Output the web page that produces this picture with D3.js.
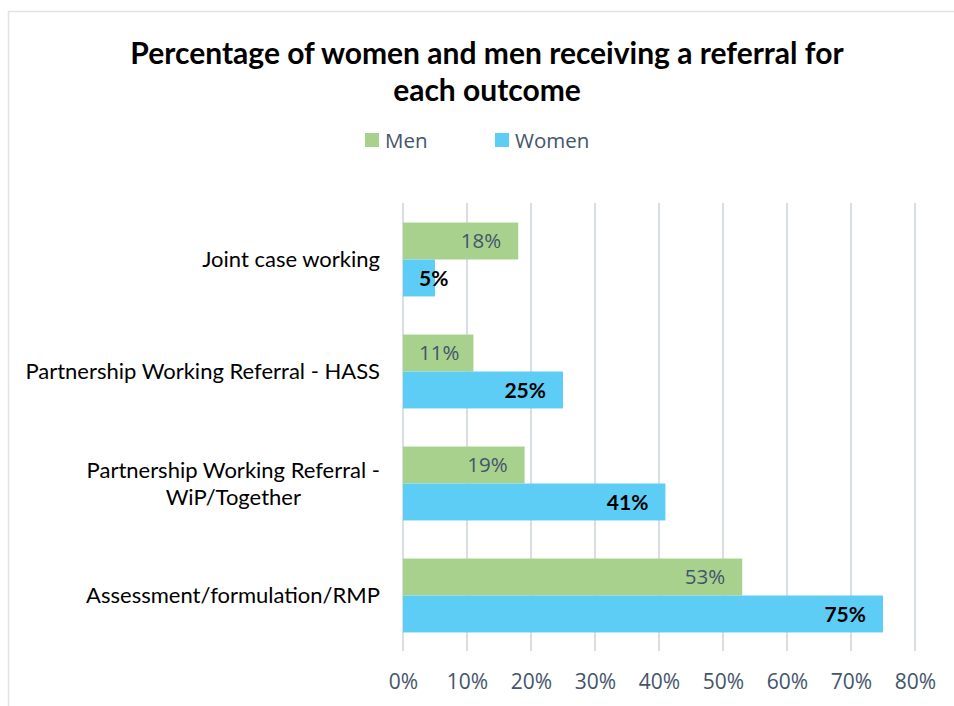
<!DOCTYPE html>
<html>
<head>
<meta charset="utf-8">
<script src="https://cdn.jsdelivr.net/npm/d3@7"></script>
<style>
  body { margin: 0; background: #fff; }
  svg { display: block; }
</style>
</head>
<body>
<div id="main"></div>
<script>
// DATA
var categories = ['Joint case working', 'Partnership Working Referral - HASS',
  'Partnership Working Referral - WiP/Together', 'Assessment/formulation/RMP']
// label lines as drawn on the axis
var category_lines = [['Joint case working'], ['Partnership Working Referral - HASS'],
  ['Partnership Working Referral -', 'WiP/Together'], ['Assessment/formulation/RMP']]
var series = ['Men', 'Women']
var men_values = [18, 11, 19, 53]
var women_values = [5, 25, 41, 75]
var x_ticks = [0, 10, 20, 30, 40, 50, 60, 70, 80]
var title_lines = ['Percentage of women and men receiving a referral for', 'each outcome']

var colors = {Men: '#A9D18E', Women: '#5ECDF5'}
var gray_text = '#44546A'

var width = 954, height = 706

var svg = d3.select('#main').append('svg')
  .attr('width', width)
  .attr('height', height)

// Chart border (only top and left are visible in the frame)
svg.append('rect')
  .attr('x', 8.5).attr('y', 11.5)
  .attr('width', 960).attr('height', 720)
  .attr('fill', 'none')
  .attr('stroke', '#E0E4E9')
  .attr('stroke-width', 1.5)

// Title
svg.append('g').selectAll('text')
  .data(title_lines)
  .join('text')
    .attr('x', 487)
    .attr('y', (d, i) => 64 + i * 37)
    .attr('text-anchor', 'middle')
    .style('font-family', 'Lato, sans-serif')
    .style('font-weight', 'bold')
    .style('font-size', '30px')
    .attr('fill', '#000')
    .text(d => d)

// Legend
var legend_x = [365, 495]
var legend = svg.append('g').selectAll('g')
  .data(series)
  .join('g')
    .attr('transform', (d, i) => `translate(${legend_x[i]},133)`)
legend.append('rect')
  .attr('width', 14).attr('height', 14)
  .attr('fill', d => colors[d])
legend.append('text')
  .attr('x', 20).attr('y', 14.5)
  .style('font-family', '"Open Sans", sans-serif')
  .style('font-size', '20.5px')
  .attr('fill', gray_text)
  .text(d => d)

// Scales
var x = d3.scaleLinear().domain([0, 80]).range([403, 915])
var y = d3.scaleBand().domain(categories).range([203.5, 651.5])
  .paddingInner(0.34).paddingOuter(0.17)
var y_inner = d3.scaleBand().domain(series).range([0, y.bandwidth()])

// Gridlines
svg.append('g').selectAll('line')
  .data(x_ticks)
  .join('line')
    .attr('x1', d => x(d)).attr('x2', d => x(d))
    .attr('y1', 203).attr('y2', 651)
    .attr('stroke', '#D9DEE6')
    .attr('stroke-width', 2)

// X axis (labels only)
var x_axis = d3.axisBottom(x).tickValues(x_ticks).tickFormat(d => d + '%').tickSize(0).tickPadding(0)
var gx = svg.append('g')
  .attr('transform', 'translate(0,670)')
  .call(x_axis)
gx.select('.domain').remove()
gx.selectAll('text')
  .attr('dy', '0.9em')
  .style('font-family', '"Open Sans", sans-serif')
  .style('font-size', '21px')
  .attr('fill', gray_text)

// Category labels: block right aligned at x=380, lines centered inside block
var cat_g = svg.append('g').selectAll('text')
  .data(categories)
  .join('text')
    .style('font-family', 'Lato, sans-serif')
    .style('font-size', '22px')
    .attr('fill', '#000')
    .attr('text-anchor', 'middle')
cat_g.each(function(d, i) {
  var lines = category_lines[i]
  var t = d3.select(this)
  var cy = y(d) + y.bandwidth() / 2
  lines.forEach(function(line, j) {
    t.append('tspan')
      .attr('y', cy + 7.5 + (j - (lines.length - 1) / 2) * 27)
      .text(line)
  })
  // measure longest line to place the block
  var w = 0
  t.selectAll('tspan').each(function() { w = Math.max(w, this.getComputedTextLength()) })
  t.selectAll('tspan').attr('x', 380 - w / 2)
})

// Bars
var rows = categories.map((c, i) => ({category: c, Men: men_values[i], Women: women_values[i]}))
var groups = svg.append('g').selectAll('g')
  .data(rows)
  .join('g')
    .attr('transform', d => `translate(0,${y(d.category)})`)

var bars = groups.selectAll('g')
  .data(d => series.map(s => ({series: s, value: d[s]})))
  .join('g')

bars.append('rect')
  .attr('x', x(0))
  .attr('y', d => y_inner(d.series))
  .attr('width', d => x(d.value) - x(0))
  .attr('height', y_inner.bandwidth())
  .attr('fill', d => colors[d.series])

// Data labels: inside end, clamped to the bar start when the bar is short
bars.append('text')
  .attr('y', d => y_inner(d.series) + y_inner.bandwidth() / 2)
  .attr('dy', '0.36em')
  .attr('text-anchor', 'end')
  .style('font-family', d => d.series == 'Men' ? '"Open Sans", sans-serif' : 'Lato, sans-serif')
  .style('font-weight', d => d.series == 'Men' ? 'normal' : 'bold')
  .style('font-size', d => d.series == 'Men' ? '20.5px' : '21px')
  .attr('fill', d => d.series == 'Men' ? gray_text : '#000')
  .text(d => d.value + '%')
  .each(function(d) {
    var w = this.getComputedTextLength()
    var right = Math.max(x(d.value) - 17, x(0) + 16 + w)
    d3.select(this).attr('x', right)
  })
</script>
</body>
</html>
